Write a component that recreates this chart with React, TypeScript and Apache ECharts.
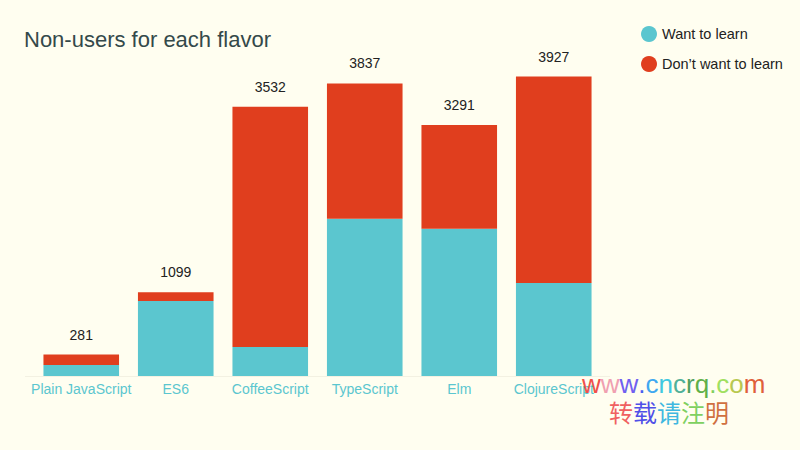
import React, { useEffect, useRef } from "react";
import * as echarts from "echarts";

const categories = ["Plain JavaScript", "ES6", "CoffeeScript", "TypeScript", "Elm", "ClojureScript"];
const wantToLearn = [145, 985, 381, 2062, 1931, 1221];
const dontWantToLearn = [136, 114, 3151, 1775, 1360, 2706];
const totals = [281, 1099, 3532, 3837, 3291, 3927];

const wmLine1 = "www.cncrq.com".split("");
const wmColors1 = ["#f0504a", "#f0a0b0", "#7060f0", "#4a60f0", "#40a8f0", "#40c8e0", "#50b098", "#50a060", "#60b048", "#80d060", "#a0e060", "#b8c850", "#e0603a"];
const wmLine2 = "转载请注明".split("");
const wmColors2 = ["#f06060", "#5050e8", "#40b8e0", "#80d060", "#d07040"];

function richText(chars: string[], colors: string[], prefix: string, fontSize: number, family: string) {
  const rich: Record<string, any> = {};
  let text = "";
  chars.forEach((c, i) => {
    rich[prefix + i] = { fill: colors[i], fontSize, fontFamily: family };
    text += "{" + prefix + i + "|" + c + "}";
  });
  return { text, rich };
}

export default function App() {
  const ref = useRef<HTMLDivElement>(null);
  useEffect(() => {
    const chart = echarts.init(ref.current!, undefined, { renderer: "svg" });
    const font = "Liberation Sans, Arial, sans-serif";
    const wm1 = richText(wmLine1, wmColors1, "a", 26, font);
    const wm2 = richText(wmLine2, wmColors2, "b", 24, "Noto Sans CJK SC, sans-serif");
    chart.setOption({
      animation: false,
      backgroundColor: "#fffef0",
      title: {
        text: "Non-users for each flavor",
        left: 19,
        top: 23,
        textStyle: { fontFamily: font, fontSize: 22, fontWeight: "normal", color: "#34494a" },
      },
      legend: {
        orient: "vertical",
        left: 636,
        top: 21,
        icon: "circle",
        itemWidth: 16,
        itemHeight: 16,
        itemGap: 14,
        textStyle: { fontFamily: font, fontSize: 14.5, color: "#222" },
        data: ["Want to learn", "Don\u2019t want to learn"],
      },
      grid: { left: 34, right: 199, top: 71, bottom: 74 },
      xAxis: {
        type: "category",
        data: categories,
        axisLine: { show: false },
        axisTick: { show: false },
        axisLabel: { color: "#5bc6cf", fontFamily: font, fontSize: 14, margin: 6, interval: 0 },
      },
      yAxis: { type: "value", min: 0, max: 4000, show: false, splitLine: { show: false } },
      graphic: [
        {
          type: "line",
          shape: { x1: 25, y1: 376.5, x2: 610, y2: 376.5 },
          style: { stroke: "#f3f1e2", lineWidth: 1 },
          z: 0,
        },
        {
          type: "text",
          left: 582,
          top: 371,
          style: { text: wm1.text, rich: wm1.rich, font: "26px " + font },
          z: 100,
        },
        {
          type: "text",
          left: 609,
          top: 399,
          style: { text: wm2.text, rich: wm2.rich, font: "24px Noto Sans CJK SC, sans-serif" },
          z: 100,
        },
      ],
      series: [
        {
          name: "Want to learn",
          type: "bar",
          stack: "total",
          data: wantToLearn,
          barCategoryGap: "20%",
          itemStyle: { color: "#5bc6cf" },
        },
        {
          name: "Don\u2019t want to learn",
          type: "bar",
          stack: "total",
          data: dontWantToLearn,
          barCategoryGap: "20%",
          itemStyle: { color: "#e03e1e" },
          label: {
            show: true,
            position: "top",
            distance: 13,
            fontFamily: font,
            fontSize: 14,
            color: "#222",
            formatter: (p: any) => String(totals[p.dataIndex]),
          },
        },
      ],
    });
    return () => chart.dispose();
  }, []);
  return <div ref={ref} style={{ width: 800, height: 450, position: "fixed", left: 0, top: 0 }} />;
}
